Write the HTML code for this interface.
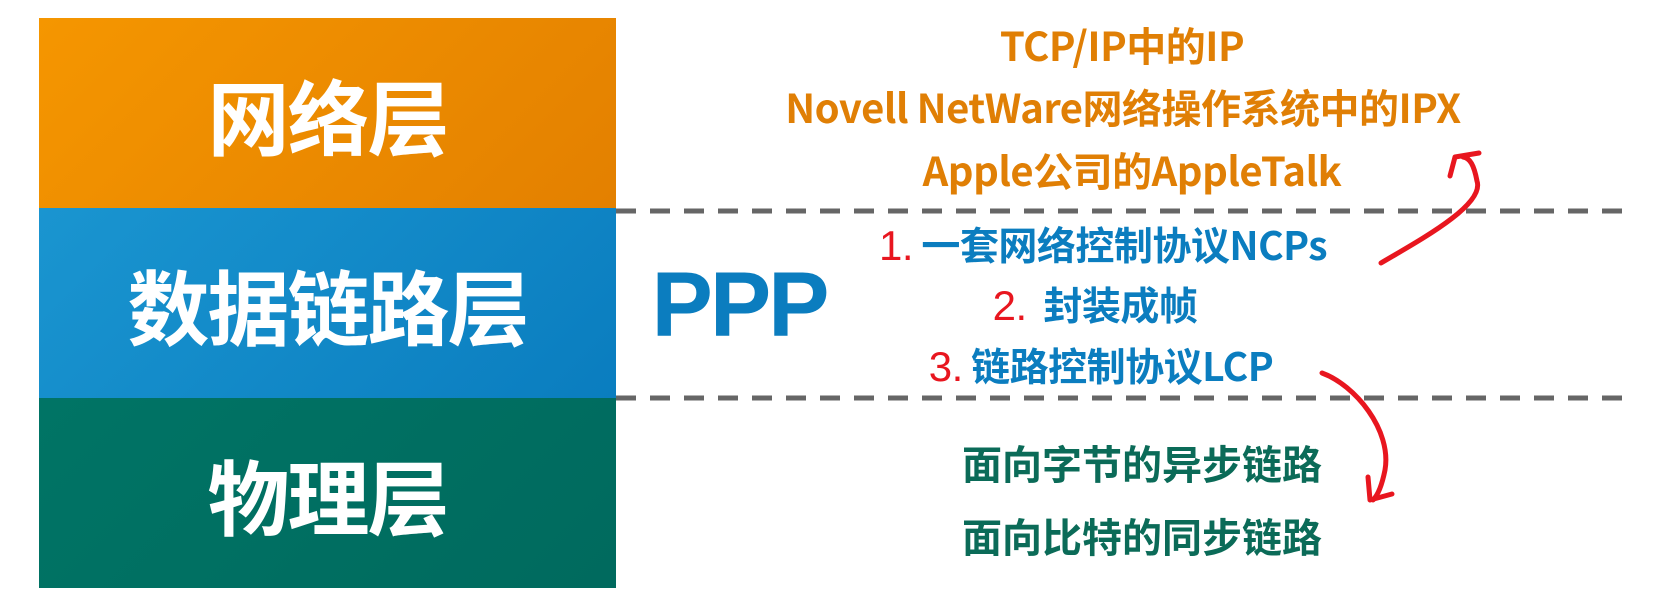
<!DOCTYPE html>
<html><head><meta charset="utf-8"><style>
body{margin:0;width:1670px;height:603px;background:#fff;position:relative;overflow:hidden;font-family:"Noto Sans CJK SC","Liberation Sans",sans-serif;font-weight:bold}
.b{position:absolute;left:39px;width:577px;display:flex;align-items:center;justify-content:center;color:#fff;font-size:82px;letter-spacing:-2px}
.t{position:absolute;white-space:nowrap;line-height:1;transform:translate(-50%,-50%)}
.o{color:#e07f05;font-size:40px;letter-spacing:-0.5px}
.bl{color:#0b7dbf;font-size:39px;letter-spacing:-0.5px}
.g{color:#0b6b58;font-size:40px}
.r{color:#e8161f;font-weight:normal;font-family:"Liberation Sans",sans-serif;font-size:42px}
</style></head><body>
<div class="b" style="top:18px;height:190px;background:linear-gradient(135deg,#f59600,#e38000)">网络层</div>
<div class="b" style="top:208px;height:190px;background:linear-gradient(135deg,#1a95d0,#0a7dbf)">数据链路层</div>
<div class="b" style="top:398px;height:190px;background:linear-gradient(135deg,#007465,#006a5e)">物理层</div>
<svg style="position:absolute;left:0;top:0" width="1670" height="603">
<line x1="616" y1="211" x2="1632" y2="211" stroke="#666" stroke-width="5" stroke-dasharray="20 14"/>
<line x1="616" y1="398" x2="1632" y2="398" stroke="#666" stroke-width="5" stroke-dasharray="20 14"/>
<path d="M1381 263 C1420 240 1485 205 1477 181 C1474 165 1470 158 1463 157" fill="none" stroke="#e8161f" stroke-width="5" stroke-linecap="round"/>
<path d="M1450 176 L1455 157 L1479 153" fill="none" stroke="#e8161f" stroke-width="5" stroke-linecap="round" stroke-linejoin="round"/>
<path d="M1322 373 C1355 385 1392 430 1385 470 C1382 485 1378 495 1373 500" fill="none" stroke="#e8161f" stroke-width="5" stroke-linecap="round"/>
<path d="M1368 477 L1370 500 L1392 494" fill="none" stroke="#e8161f" stroke-width="5" stroke-linecap="round" stroke-linejoin="round"/>
</svg>
<div class="t" style="left:739px;top:305px;color:#0b7dbf;font-size:92px;font-family:'Liberation Sans',sans-serif;letter-spacing:-3px">PPP</div>
<div class="t o" style="left:1122px;top:44px">TCP/IP中的IP</div>
<div class="t o" style="left:1123px;top:106px">Novell NetWare网络操作系统中的IPX</div>
<div class="t o" style="left:1132px;top:169px">Apple公司的AppleTalk</div>
<div class="t bl" style="left:1103px;top:246px"><span class="r">1.</span> 一套网络控制协议NCPs</div>
<div class="t bl" style="left:1095px;top:306px"><span class="r">2.</span>&nbsp;&nbsp;封装成帧</div>
<div class="t bl" style="left:1101px;top:367px"><span class="r">3.</span> 链路控制协议LCP</div>
<div class="t g" style="left:1142px;top:462px">面向字节的异步链路</div>
<div class="t g" style="left:1142px;top:535px">面向比特的同步链路</div>
</body></html>
